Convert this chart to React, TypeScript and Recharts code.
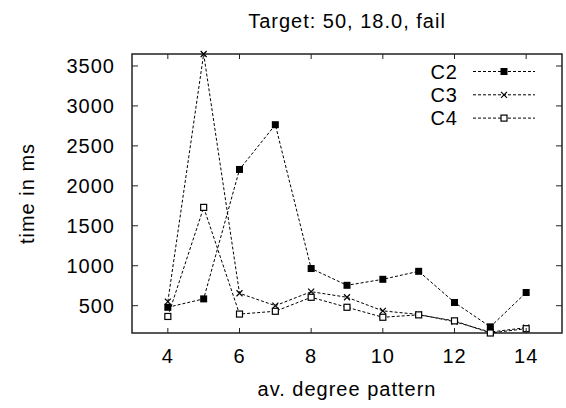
import { LineChart, Line, XAxis, YAxis, Legend, ReferenceArea } from 'recharts'

const degrees = [4, 5, 6, 7, 8, 9, 10, 11, 12, 13, 14]
const c2Times = [480, 585, 2205, 2765, 965, 755, 830, 930, 540, 235, 665]
const c3Times = [550, 3650, 655, 500, 675, 605, 435, 390, 300, 170, 225]
const c4Times = [365, 1730, 395, 430, 605, 480, 355, 385, 310, 158, 212]
const xTicks = [4, 6, 8, 10, 12, 14]
const yTicks = [500, 1000, 1500, 2000, 2500, 3000, 3500]

const data = degrees.map((d, i) => ({
  degree: d,
  C2: c2Times[i],
  C3: c3Times[i],
  C4: c4Times[i],
}))

const X_DOMAIN: [number, number] = [3, 15]
const Y_DOMAIN: [number, number] = [158, 3650]

// plot box in px (from the chart margins / axis sizes below)
const PLOT_TOP = 54
const PLOT_BOTTOM = 333
const PLOT_LEFT = 132
const PLOT_RIGHT = 562

const FONT = '"Liberation Sans", Arial, sans-serif'
const textStyle = { fontSize: 20, fill: '#000', fontFamily: FONT, letterSpacing: 1 }
const INK = '#222'

function Marker({ kind, cx, cy }: { kind: string; cx: number; cy: number }) {
  if (kind === 'C2') {
    return <rect x={cx - 3.5} y={cy - 3.5} width={7} height={7} fill="#000" />
  }
  if (kind === 'C3') {
    return (
      <path
        d={`M${cx - 3},${cy - 3}L${cx + 3},${cy + 3}M${cx - 3},${cy + 3}L${cx + 3},${cy - 3}`}
        stroke="#000"
        strokeWidth={1.2}
      />
    )
  }
  return <rect x={cx - 3} y={cy - 3} width={6} height={6} fill="#fff" stroke="#000" strokeWidth={1.2} />
}

function dotFor(kind: string) {
  return (p: any) => <Marker key={`${kind}-${p.index}`} kind={kind} cx={p.cx} cy={p.cy} />
}

// gnuplot style: ticks point inwards, mirrored on the opposite side
function BottomTick({ x, y, payload }: any) {
  const c = payload.coordinate
  return (
    <g>
      <line x1={c} x2={c} y1={PLOT_BOTTOM} y2={PLOT_BOTTOM - 5} stroke={INK} />
      <line x1={c} x2={c} y1={PLOT_TOP} y2={PLOT_TOP + 5} stroke={INK} />
      <text x={x} y={y} dy="0.71em" textAnchor="middle" {...textStyle}>
        {payload.value}
      </text>
    </g>
  )
}

function LeftTick({ x, y, payload }: any) {
  const c = payload.coordinate
  return (
    <g>
      <line x1={PLOT_LEFT} x2={PLOT_LEFT + 6} y1={c} y2={c} stroke={INK} />
      <line x1={PLOT_RIGHT} x2={PLOT_RIGHT - 6} y1={c} y2={c} stroke={INK} />
      <text x={x} y={y} dy="0.36em" textAnchor="end" {...textStyle}>
        {payload.value}
      </text>
    </g>
  )
}

function KeyBox({ payload }: any) {
  return (
    <svg width={140} height={75} style={{ display: 'block' }}>
      {(payload || []).map((entry: any, i: number) => {
        const y = 13.5 + i * 23.3
        return (
          <g key={entry.value}>
            <text x={38} y={y + 7} textAnchor="end" {...textStyle}>
              {entry.value}
            </text>
            <line x1={53} x2={115} y1={y} y2={y} stroke="#000" strokeDasharray="3 2" />
            <Marker kind={entry.value} cx={84} cy={y} />
          </g>
        )
      })}
    </svg>
  )
}

export default function App() {
  return (
    <div style={{ position: 'absolute', left: 0, top: 0, width: 566, height: 408, background: '#fff', fontFamily: FONT }}>
      <div
        style={{
          position: 'absolute',
          left: PLOT_LEFT,
          top: 12,
          width: PLOT_RIGHT - PLOT_LEFT,
          textAlign: 'center',
          fontSize: 20,
          lineHeight: '19px',
          letterSpacing: 1,
          color: '#000',
        }}
      >
        Target: 50, 18.0, fail
      </div>
      <LineChart width={566} height={408} data={data} margin={{ top: PLOT_TOP, right: 566 - PLOT_RIGHT, left: 0, bottom: 0 }}>
        <XAxis
          dataKey="degree"
          type="number"
          domain={X_DOMAIN}
          ticks={xTicks}
          height={408 - PLOT_BOTTOM}
          tick={<BottomTick />}
          tickLine={false}
          tickSize={0}
          tickMargin={16}
          axisLine={false}
          label={{ value: 'av. degree pattern', position: 'insideBottom', offset: 12, style: textStyle }}
        />
        <YAxis
          type="number"
          domain={Y_DOMAIN}
          ticks={yTicks}
          width={PLOT_LEFT}
          tick={<LeftTick />}
          tickLine={false}
          tickSize={0}
          tickMargin={17}
          axisLine={false}
          label={{
            value: 'time in ms',
            angle: -90,
            position: 'insideLeft',
            offset: 27,
            style: { ...textStyle, textAnchor: 'middle' },
          }}
        />
        <ReferenceArea
          x1={X_DOMAIN[0]}
          x2={X_DOMAIN[1]}
          y1={Y_DOMAIN[0]}
          y2={Y_DOMAIN[1]}
          fill="none"
          fillOpacity={0}
          stroke={INK}
          strokeWidth={1.5}
        />
        <Legend
          layout="vertical"
          align="center"
          verticalAlign="middle"
          content={<KeyBox />}
          wrapperStyle={{ left: 420, top: 58, width: 140, height: 75 }}
        />
        <Line dataKey="C2" stroke="#000" strokeWidth={1} strokeDasharray="3 2" dot={dotFor('C2')} isAnimationActive={false} />
        <Line dataKey="C3" stroke="#000" strokeWidth={1} strokeDasharray="3 2" dot={dotFor('C3')} isAnimationActive={false} />
        <Line dataKey="C4" stroke="#000" strokeWidth={1} strokeDasharray="3 2" dot={dotFor('C4')} isAnimationActive={false} />
      </LineChart>
    </div>
  )
}
